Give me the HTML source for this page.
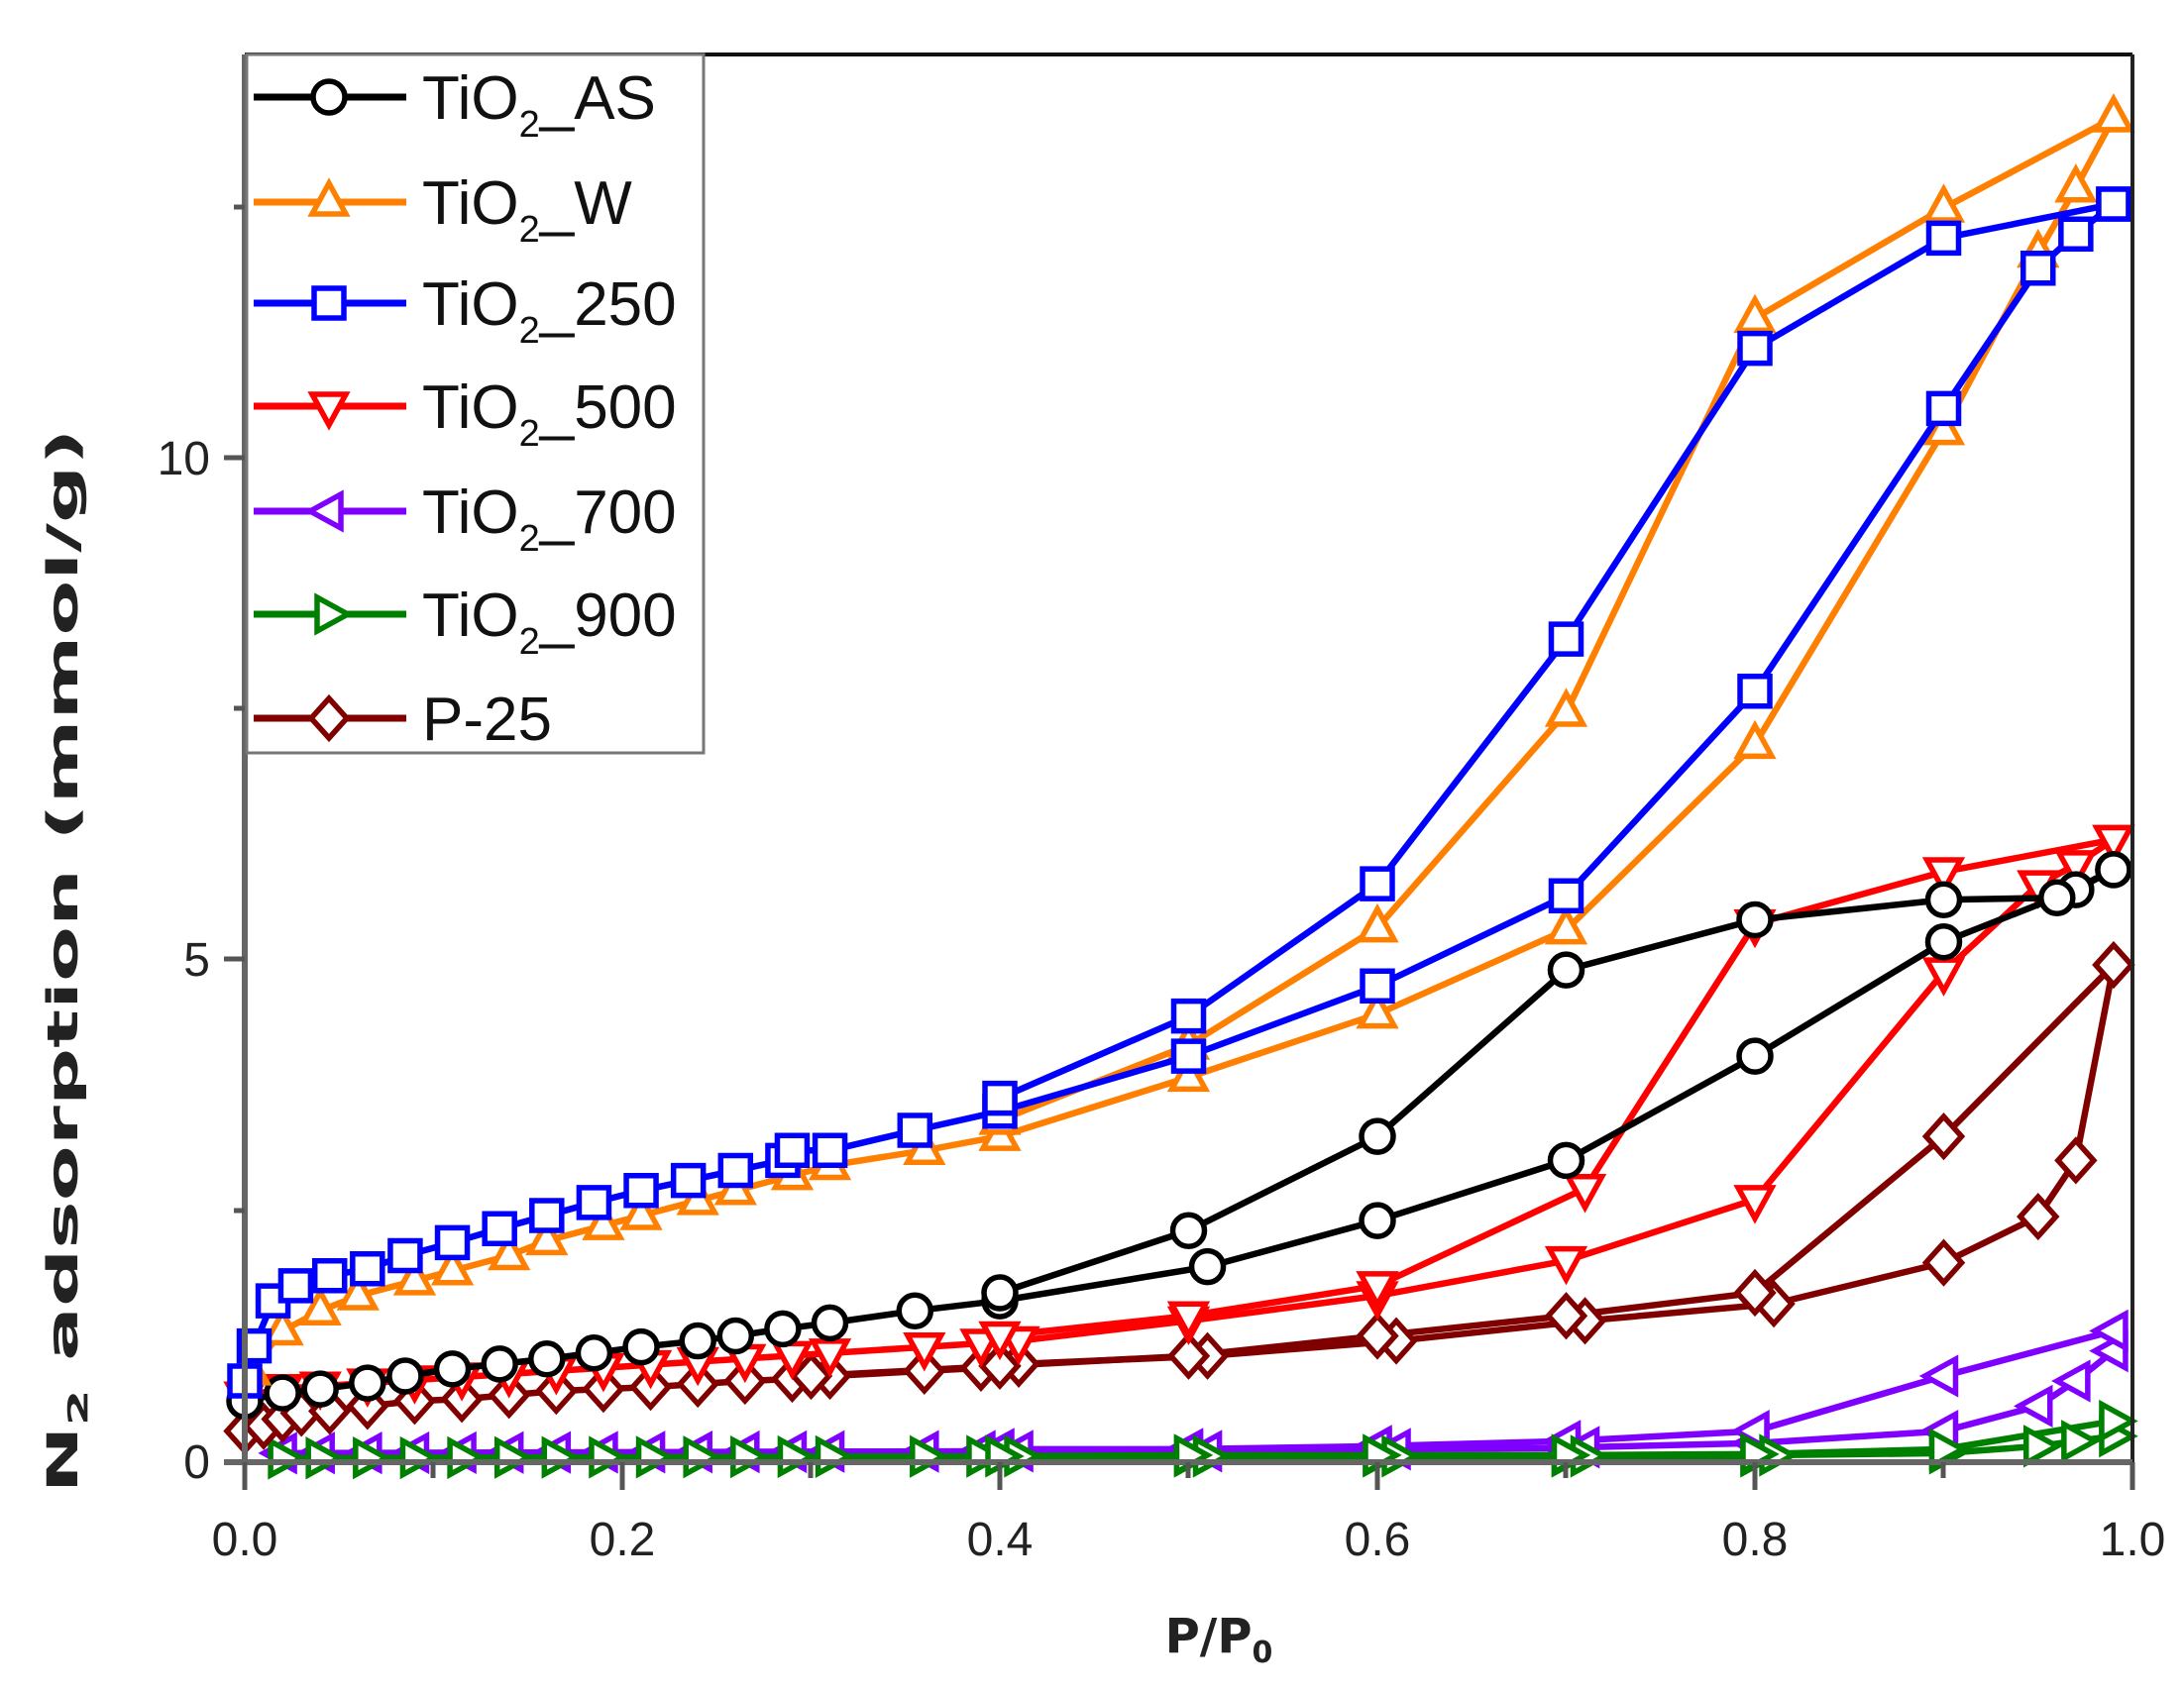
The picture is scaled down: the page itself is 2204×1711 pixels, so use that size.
<!DOCTYPE html>
<html><head><meta charset="utf-8"><style>
html,body{margin:0;padding:0;background:#fff;}
svg{display:block;}
</style></head><body>
<svg id="s" width="2204" height="1711" xmlns="http://www.w3.org/2000/svg" font-family="Liberation Sans, sans-serif">
<rect width="2204" height="1711" fill="#fff"/>
<g id="data"></g>
<line x1="247" y1="55" x2="2152" y2="55" stroke="#111" stroke-width="4"/>
<line x1="2152" y1="55" x2="2152" y2="1476" stroke="#222" stroke-width="4"/>
<line x1="247" y1="55" x2="247" y2="1478" stroke="#666" stroke-width="6"/>
<line x1="226" y1="1476" x2="2152" y2="1476" stroke="#666" stroke-width="6"/>
<g stroke="#555" stroke-width="5">
<line x1="226" y1="968" x2="247" y2="968"/>
<line x1="226" y1="462" x2="247" y2="462"/>
<line x1="236" y1="1222" x2="247" y2="1222"/>
<line x1="236" y1="715" x2="247" y2="715"/>
<line x1="236" y1="209" x2="247" y2="209"/>
<line x1="247" y1="1476" x2="247" y2="1504"/>
<line x1="628" y1="1476" x2="628" y2="1504"/>
<line x1="1009" y1="1476" x2="1009" y2="1504"/>
<line x1="1390" y1="1476" x2="1390" y2="1504"/>
<line x1="1771" y1="1476" x2="1771" y2="1504"/>
<line x1="2152" y1="1476" x2="2152" y2="1504"/>
<line x1="437" y1="1476" x2="437" y2="1492"/>
<line x1="818" y1="1476" x2="818" y2="1492"/>
<line x1="1199" y1="1476" x2="1199" y2="1492"/>
<line x1="1580" y1="1476" x2="1580" y2="1492"/>
<line x1="1961" y1="1476" x2="1961" y2="1492"/>
</g>
<g font-size="48" fill="#222" text-anchor="end">
<text x="212" y="1492">0</text>
<text x="212" y="985">5</text>
<text x="212" y="479">10</text>
</g>
<g font-size="48" fill="#222" text-anchor="middle">
<text x="247" y="1570">0.0</text>
<text x="628" y="1570">0.2</text>
<text x="1009" y="1570">0.4</text>
<text x="1390" y="1570">0.6</text>
<text x="1771" y="1570">0.8</text>
<text x="2152" y="1570">1.0</text>
</g>
<text x="1230" y="1668" font-size="48" font-weight="bold" fill="#222" text-anchor="middle" font-family="DejaVu Sans, sans-serif">P/P<tspan font-size="30" dy="10">0</tspan></text>
<text transform="translate(78,970) rotate(-90)" font-size="43" font-weight="bold" fill="#222" text-anchor="middle" font-family="DejaVu Sans, sans-serif" textLength="1075" lengthAdjust="spacingAndGlyphs">N<tspan font-size="28" dy="10">2</tspan><tspan dy="-10"> adsorption (mmol/g)</tspan></text>
<g id="legend"></g>
</svg>
<script>
var X=function(p){return 247+p*1905;}, Y=function(v){return 1475-v*101.2;};
var NS="http://www.w3.org/2000/svg";
function el(t,a,par){var e=document.createElementNS(NS,t);for(var k in a)e.setAttribute(k,a[k]);(par||document.getElementById('data')).appendChild(e);return e;}
function marker(type,cx,cy,col,par){
 var r=16,w=5.5;
 if(type=='o')return el('circle',{cx:cx,cy:cy,r:r,fill:'#fff',stroke:col,'stroke-width':w},par);
 var pts;
 if(type=='^')pts=[[0,-19],[17,12],[-17,12]];
 if(type=='v')pts=[[0,19],[17,-12],[-17,-12]];
 if(type=='<')pts=[[-19,0],[12,-17],[12,17]];
 if(type=='>')pts=[[19,0],[-12,-17],[-12,17]];
 if(type=='s')pts=[[-15,-15],[15,-15],[15,15],[-15,15]];
 if(type=='d')pts=[[0,-20],[18,0],[0,20],[-18,0]];
 return el('polygon',{points:pts.map(function(p){return (cx+p[0])+','+(cy+p[1]);}).join(' '),fill:'#fff',stroke:col,'stroke-width':w,'stroke-linejoin':'miter'},par);
}
function series(col,type,ads,des){
 var all=ads.concat(des);
 el('polyline',{points:ads.map(function(p){return X(p[0])+','+Y(p[1]);}).join(' '),fill:'none',stroke:col,'stroke-width':6.5,'stroke-linejoin':'round'});
 el('polyline',{points:des.map(function(p){return X(p[0])+','+Y(p[1]);}).join(' '),fill:'none',stroke:col,'stroke-width':6.5,'stroke-linejoin':'round'});
 all.forEach(function(p){marker(type,X(p[0]),Y(p[1]),col);});
}
var lowx=[0.02,0.04,0.065,0.09,0.115,0.14,0.165,0.19,0.215,0.24,0.265,0.29,0.31,0.36,0.39,0.41];
function flat(v0,v1){return lowx.map(function(x,i){return [x,v0+(v1-v0)*i/(lowx.length-1)];});}
series('#8000ff','<',flat(0.08,0.1).concat([[0.5,0.1],[0.51,0.1],[0.6,0.12],[0.61,0.12],[0.7,0.13],[0.71,0.14],[0.8,0.18],[0.9,0.3],[0.95,0.55],[0.97,0.8],[0.99,1.1]]),
 [[0.99,1.3],[0.9,0.85],[0.8,0.3],[0.7,0.2],[0.6,0.15],[0.5,0.12],[0.4,0.12]]);
series('#008000','>',flat(0.03,0.05).concat([[0.5,0.05],[0.51,0.05],[0.6,0.05],[0.61,0.05],[0.7,0.05],[0.71,0.05],[0.8,0.05],[0.81,0.06],[0.9,0.08],[0.95,0.15],[0.97,0.2],[0.99,0.25]]),
 [[0.99,0.4],[0.9,0.12],[0.8,0.07],[0.7,0.06],[0.6,0.06],[0.5,0.06],[0.4,0.05]]);
series('#800000','d',[[0,0.3],[0.01,0.35],[0.02,0.42],[0.03,0.48],[0.045,0.5],[0.065,0.55],[0.09,0.6],[0.115,0.62],[0.14,0.66],[0.165,0.7],[0.19,0.72],[0.215,0.74],[0.24,0.77],[0.265,0.8],[0.29,0.82],[0.31,0.85],[0.36,0.9],[0.39,0.93],[0.41,0.97],[0.51,1.05],[0.61,1.2],[0.71,1.4],[0.81,1.57],[0.9,1.98],[0.95,2.44],[0.97,3.0],[0.99,4.95]],
 [[0.99,4.95],[0.9,3.24],[0.8,1.68],[0.7,1.45],[0.6,1.25],[0.5,1.05],[0.4,0.95],[0.3,0.85]]);
var redlow=[[0,0.65]];for(var i=0;i<lowx.length;i++)redlow.push([lowx[i],0.7+0.5*lowx[i]/0.41]);
series('#ff0000','v',redlow.concat([[0.5,1.4],[0.6,1.65],[0.7,2.0],[0.8,2.61],[0.9,4.88],[0.95,5.75],[0.97,5.95],[0.99,6.2]]),
 [[0.99,6.2],[0.9,5.88],[0.8,5.36],[0.71,2.72],[0.6,1.75],[0.5,1.45],[0.4,1.25]]);
series('#000','o',[[0,0.6],[0.02,0.68],[0.04,0.72],[0.065,0.78],[0.085,0.85],[0.11,0.92],[0.135,0.97],[0.16,1.02],[0.185,1.08],[0.21,1.14],[0.24,1.2],[0.26,1.25],[0.285,1.32],[0.31,1.38],[0.355,1.5],[0.40,1.6],[0.51,1.94],[0.6,2.4],[0.7,3.0],[0.8,4.04],[0.9,5.18],[0.97,5.7],[0.99,5.9]],
 [[0.99,5.9],[0.96,5.62],[0.9,5.6],[0.8,5.4],[0.7,4.9],[0.6,3.24],[0.5,2.3],[0.4,1.68]]);
series('#ff8000','^',[[0.003,0.9],[0.02,1.3],[0.04,1.5],[0.06,1.65],[0.09,1.8],[0.11,1.9],[0.14,2.05],[0.16,2.2],[0.19,2.35],[0.21,2.45],[0.24,2.6],[0.26,2.7],[0.29,2.85],[0.31,2.95],[0.36,3.1],[0.40,3.24],[0.5,3.83],[0.6,4.46],[0.7,5.3],[0.8,7.15],[0.9,10.28],[0.95,12.05],[0.97,12.7],[0.99,13.4]],
 [[0.99,13.4],[0.9,12.5],[0.8,11.4],[0.7,7.47],[0.6,5.32],[0.5,4.15],[0.4,3.4]]);
series('#0000ff','s',[[0.0,0.8],[0.005,1.15],[0.015,1.6],[0.027,1.75],[0.045,1.85],[0.065,1.92],[0.085,2.05],[0.11,2.18],[0.135,2.32],[0.16,2.45],[0.185,2.58],[0.21,2.7],[0.235,2.8],[0.26,2.9],[0.285,3.0],[0.29,3.1],[0.31,3.1],[0.355,3.3],[0.40,3.49],[0.5,4.04],[0.6,4.74],[0.7,5.64],[0.8,7.68],[0.9,10.5],[0.95,11.9],[0.97,12.24],[0.99,12.54]],
 [[0.99,12.54],[0.9,12.2],[0.8,11.1],[0.7,8.2],[0.6,5.76],[0.5,4.44],[0.4,3.62]]);
var L=document.getElementById('legend');
el('rect',{x:249,y:55,width:461,height:705,fill:'#fff',stroke:'#777','stroke-width':3},L);
var items=[['#000','o','AS'],['#ff8000','^','W'],['#0000ff','s','250'],['#ff0000','v','500'],['#8000ff','<','700'],['#008000','>','900'],['#800000','d','P-25']];
var ys=[98,204,306,410,516,620,725];
items.forEach(function(it,i){
 var y=ys[i];
 el('line',{x1:256,y1:y,x2:410,y2:y,stroke:it[0],'stroke-width':7},L);
 marker(it[1],332,y,it[0],L);
 var t=el('text',{x:426,y:y+22,'font-size':62,fill:'#111'},L);
 if(it[2]=='P-25'){t.textContent='P-25';}
 else{
  var a=document.createElementNS(NS,'tspan');a.textContent='TiO';t.appendChild(a);
  var b=document.createElementNS(NS,'tspan');b.setAttribute('font-size','38');b.setAttribute('dy','18');b.textContent='2';t.appendChild(b);
  var c=document.createElementNS(NS,'tspan');c.setAttribute('dy','-18');c.textContent='_'+it[2];t.appendChild(c);
 }
});
</script>
</body></html>
